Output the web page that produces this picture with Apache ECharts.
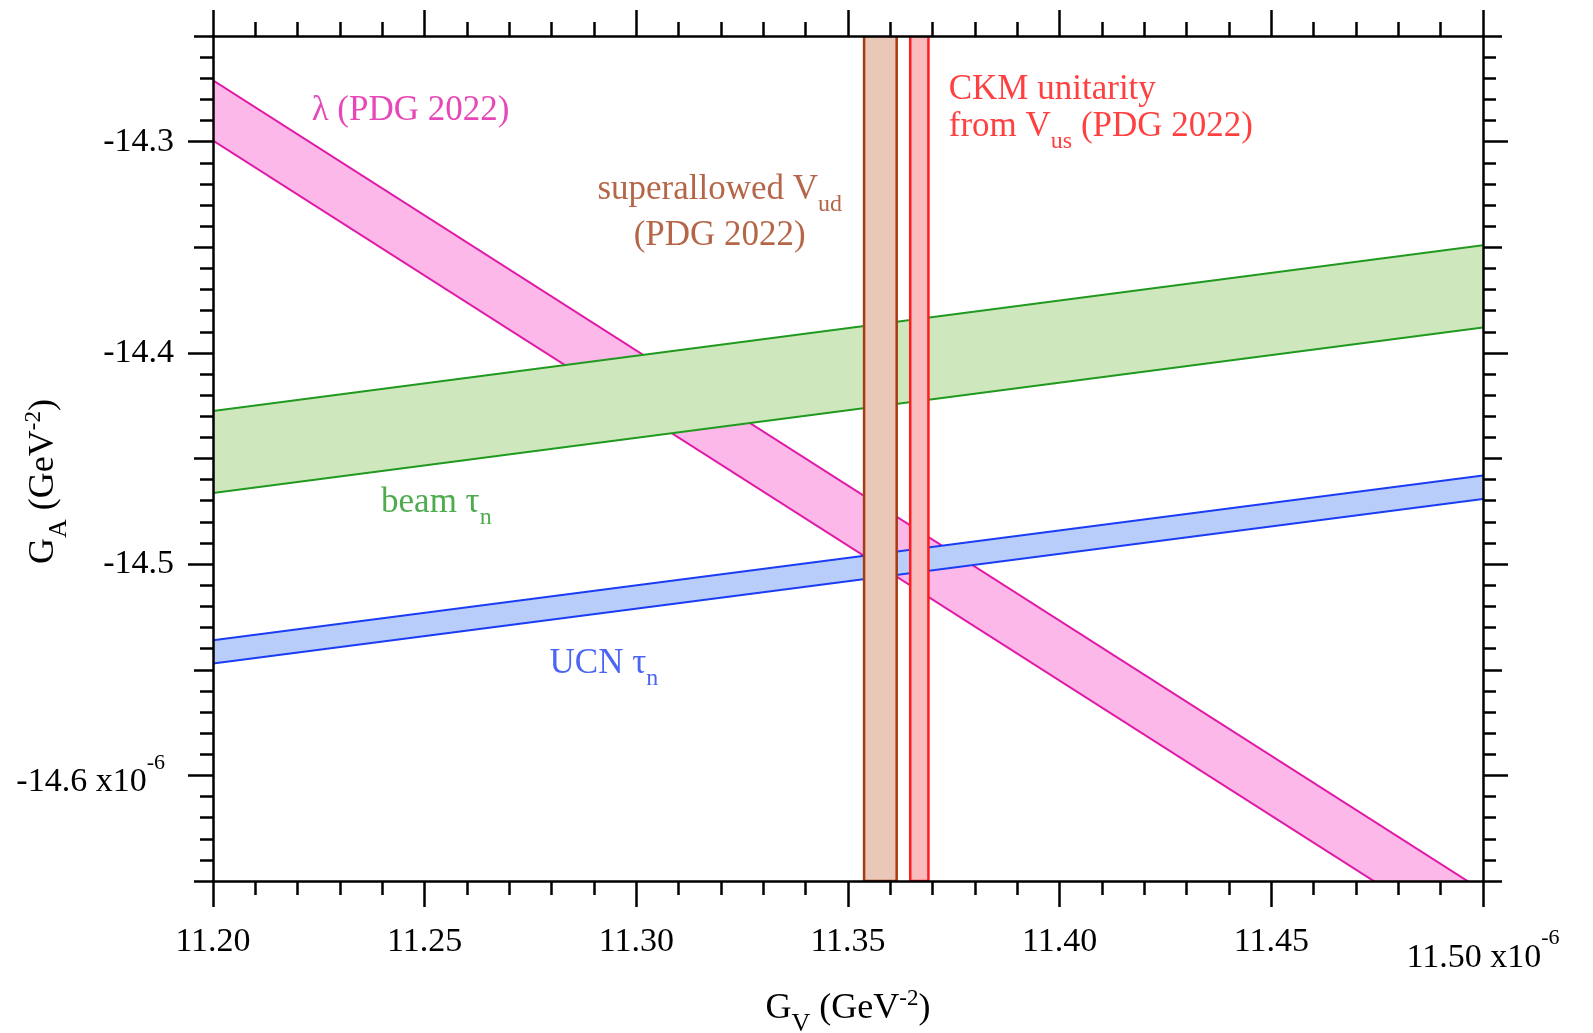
<!DOCTYPE html>
<html>
<head>
<meta charset="utf-8">
<script src="https://cdn.jsdelivr.net/npm/echarts@6/dist/echarts.min.js"></script>
<style>
  html, body { margin: 0; padding: 0; background: #ffffff; }
  #chart { width: 1593px; height: 1033px; }
</style>
</head>
<body>
<div id="chart"></div>
<script>
const FONT = '"Liberation Serif", "Times New Roman", serif';

// Axis extents and labelled ticks (units of 1e-6 GeV^-2)
const gvRange = [11.20, 11.50];
const gaRange = [-14.65, -14.25];
const gaMajorTicks = [-14.6, -14.5, -14.4, -14.3];

// Sloped bands: edge values of G_A at G_V = 11.20 and 11.50
const bandGV = [11.20, 11.50];
const lambdaUpper = [-14.271, -14.6547];
const lambdaLower = [-14.2995, -14.683];
const beamUpper = [-14.4275, -14.349];
const beamLower = [-14.4663, -14.388];
const ucnUpper = [-14.536, -14.458];
const ucnLower = [-14.547, -14.4692];

// Vertical G_V bands
const vudBand = [11.3538, 11.3615];
const vusBand = [11.3647, 11.3690];

// Annotations: text, anchor (G_V, G_A), alignment, colour
const noteTexts = [
  '{m|λ (PDG 2022)}',
  '{m|superallowed V}{sub|ud}',
  '{m|(PDG 2022)}',
  '{m|CKM unitarity}',
  '{m|from V}{sub|us}{m| (PDG 2022)}',
  '{m|beam τ}{sub|n}',
  '{m|UCN τ}{sub|n}'
];
const notePos = [
  [11.2233, -14.2856],
  [11.3197, -14.3230],
  [11.3197, -14.3448],
  [11.3738, -14.2755],
  [11.3738, -14.2932],
  [11.2397, -14.4712],
  [11.2795, -14.5474]
];
const noteAlign = ['left', 'center', 'center', 'left', 'left', 'left', 'left'];
const noteColor = ['#e01aa8', '#a3401a', '#a3401a', '#ff1010', '#ff1010', '#229622', '#1f3ff2'];

const palette = {
  lambda: { fill: '#fdb8ea', stroke: '#e01aa6' },
  beam:   { fill: '#cfe7bc', stroke: '#1f9a1f' },
  ucn:    { fill: '#b8cdf9', stroke: '#1b3cf5' },
  vud:    { fill: '#e9c8b8', stroke: '#a63a12' },
  vus:    { fill: '#fcbcbe', stroke: '#ff1c1c' }
};

function bandSeries(name, upper, lower, colors) {
  return {
    type: 'custom',
    name: name,
    clip: true,
    silent: true,
    dimensions: ['x0', 'x1', 'u0', 'u1', 'l0', 'l1'],
    encode: { x: [0, 1], y: [2, 3, 4, 5] },
    data: [[bandGV[0], bandGV[1], upper[0], upper[1], lower[0], lower[1]]],
    renderItem: function (params, api) {
      const pu0 = api.coord([api.value(0), api.value(2)]);
      const pu1 = api.coord([api.value(1), api.value(3)]);
      const pl1 = api.coord([api.value(1), api.value(5)]);
      const pl0 = api.coord([api.value(0), api.value(4)]);
      return {
        type: 'group',
        children: [
          { type: 'polygon', shape: { points: [pu0, pu1, pl1, pl0] },
            style: { fill: colors.fill, stroke: null } },
          { type: 'polyline', shape: { points: [pu0, pu1] },
            style: { fill: null, stroke: colors.stroke, lineWidth: 2 } },
          { type: 'polyline', shape: { points: [pl0, pl1] },
            style: { fill: null, stroke: colors.stroke, lineWidth: 2 } }
        ]
      };
    },
    z: 2
  };
}

function stripSeries(name, range, colors) {
  return {
    type: 'custom',
    name: name,
    clip: true,
    silent: true,
    dimensions: ['x0', 'x1'],
    encode: { x: [0, 1] },
    data: [[range[0], range[1]]],
    renderItem: function (params, api) {
      const a = api.coord([api.value(0), gaRange[1]]);
      const b = api.coord([api.value(1), gaRange[0]]);
      return {
        type: 'rect',
        shape: { x: a[0], y: a[1], width: b[0] - a[0], height: b[1] - a[1] },
        style: { fill: colors.fill, stroke: colors.stroke, lineWidth: 2.5 }
      };
    },
    z: 3
  };
}

function noteRich(color) {
  return {
    m: { fontFamily: FONT, fontSize: 35, color: color },
    sub: { fontFamily: FONT, fontSize: 24, color: color, padding: [28, 0, 0, 0] }
  };
}

const isTenth = v => Math.abs(v * 10 - Math.round(v * 10)) < 1e-6;
const black = '#000000';
const TICK_SIZE = 34;

const tickText = { fontFamily: FONT, fontSize: TICK_SIZE, color: black };
const xRich = {
  n: { fontFamily: FONT, fontSize: TICK_SIZE, color: black, padding: [16, 0, 0, 0] },
  s: { fontFamily: FONT, fontSize: 22, color: black, padding: [0, 0, 24, 0] }
};
const yRich = {
  n: { fontFamily: FONT, fontSize: TICK_SIZE, color: black, padding: [14, 0, 0, 0] },
  s: { fontFamily: FONT, fontSize: 22, color: black, padding: [0, 9, 24, 0] }
};
const nameRich = {
  m: { fontFamily: FONT, fontSize: 36, color: black },
  sub: { fontFamily: FONT, fontSize: 26, color: black, padding: [30, 0, 0, 0] },
  sup: { fontFamily: FONT, fontSize: 23, color: black, padding: [0, 0, 20, 0] }
};

const axisLineStyle = { show: true, lineStyle: { color: black, width: 2.5 } };

function xAxisDef(position, withLabels) {
  return {
    type: 'value',
    position: position,
    min: gvRange[0], max: gvRange[1], interval: 0.05,
    z: 5,
    axisLine: axisLineStyle,
    axisTick: { show: true, length: 26, lineStyle: { color: black, width: 2.5 } },
    minorTick: { show: true, splitNumber: 5, length: 14, lineStyle: { color: black, width: 2.5 } },
    splitLine: { show: false },
    minorSplitLine: { show: false },
    axisLabel: withLabels ? {
      show: true, margin: 44, ...tickText, rich: xRich,
      formatter: v => Math.abs(v - gvRange[1]) < 1e-9 ? '{n|' + v.toFixed(2) + ' x10}{s|-6}' : v.toFixed(2)
    } : { show: false },
    name: withLabels ? '{m|G}{sub|V}{m| (GeV}{sup|-2}{m|)}' : '',
    nameLocation: 'middle',
    nameGap: 100,
    nameMoveOverlap: false,
    nameTextStyle: { rich: nameRich }
  };
}

function yAxisDef(position, withLabels) {
  return {
    type: 'value',
    position: position,
    min: gaRange[0], max: gaRange[1], interval: 0.05,
    z: 5,
    axisLine: axisLineStyle,
    axisTick: { show: true, length: 19, lineStyle: { color: black, width: 2.5 } },
    minorTick: { show: true, splitNumber: 5, length: 13, lineStyle: { color: black, width: 2.5 } },
    splitLine: { show: false },
    minorSplitLine: { show: false },
    axisLabel: withLabels ? {
      show: true, margin: 39, ...tickText, rich: yRich,
      formatter: v => {
        if (!isTenth(v)) return '';
        if (Math.abs(v - gaMajorTicks[0]) < 1e-9) return '{n|' + v.toFixed(1) + ' x10}{s|-6}';
        return v.toFixed(1);
      }
    } : { show: false },
    name: withLabels ? '{m|G}{sub|A}{m| (GeV}{sup|-2}{m|)}' : '',
    nameLocation: 'middle',
    nameRotate: 90,
    nameGap: 141,
    nameMoveOverlap: false,
    nameTextStyle: { rich: nameRich, padding: [0, 46, 0, 0] }
  };
}

// Long ticks at the labelled G_A values
function yMajorTickAxis(position) {
  return {
    type: 'value',
    position: position,
    min: gaRange[0], max: gaRange[1],
    z: 5,
    axisLine: { show: false },
    axisTick: { show: true, length: 25, customValues: gaMajorTicks, lineStyle: { color: black, width: 2.5 } },
    axisLabel: { show: false },
    splitLine: { show: false }
  };
}

const chart = echarts.init(document.getElementById('chart'), null, { renderer: 'canvas' });

chart.setOption({
  animation: false,
  backgroundColor: '#ffffff',
  grid: { left: 213, right: 110, top: 36, bottom: 152, containLabel: false, outerBoundsMode: 'none' },
  xAxis: [xAxisDef('bottom', true), xAxisDef('top', false)],
  yAxis: [yAxisDef('left', true), yAxisDef('right', false), yMajorTickAxis('left'), yMajorTickAxis('right')],
  series: [
    bandSeries('λ (PDG 2022)', lambdaUpper, lambdaLower, palette.lambda),
    bandSeries('beam τn', beamUpper, beamLower, palette.beam),
    bandSeries('UCN τn', ucnUpper, ucnLower, palette.ucn),
    stripSeries('superallowed Vud', vudBand, palette.vud),
    stripSeries('CKM unitarity from Vus', vusBand, palette.vus),
    {
      type: 'scatter',
      name: 'labels',
      silent: true,
      symbolSize: 0,
      z: 6,
      data: notePos.map((p, i) => ({
        value: p,
        label: {
          show: true,
          position: 'inside',
          align: noteAlign[i],
          verticalAlign: 'middle',
          formatter: noteTexts[i],
          rich: noteRich(noteColor[i])
        }
      }))
    }
  ]
});
</script>
</body>
</html>
